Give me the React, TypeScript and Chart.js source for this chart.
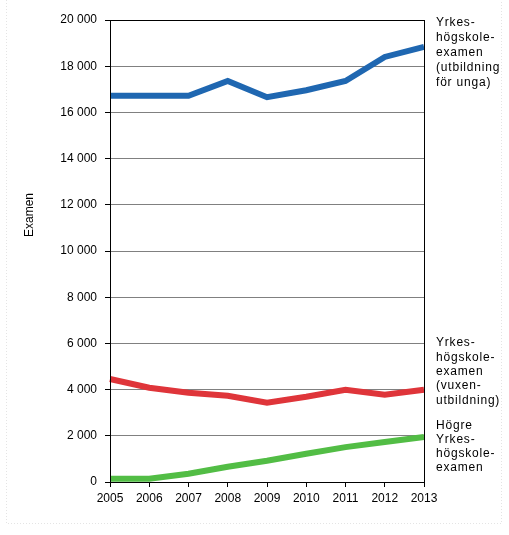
import React, { useEffect, useRef } from 'react';
import { Chart, registerables } from 'chart.js';

Chart.register(...registerables);

const years = ['2005', '2006', '2007', '2008', '2009', '2010', '2011', '2012', '2013'];

const ungaValues = [16720, 16720, 16720, 17360, 16660, 16960, 17360, 18400, 18840];
const vuxenValues = [4460, 4080, 3860, 3730, 3430, 3690, 3990, 3780, 3990];
const hogreValues = [140, 140, 360, 660, 920, 1220, 1510, 1730, 1950];

const ungaLabel = ['Yrkes-', 'högskole-', 'examen', '(utbildning', 'för unga)'];
const vuxenLabel = ['Yrkes-', 'högskole-', 'examen', '(vuxen-', 'utbildning)'];
const hogreLabel = ['Högre', 'Yrkes-', 'högskole-', 'examen'];

const yTitle = 'Examen';
const FONT = '"Liberation Sans", Arial, sans-serif';

const formatThousands = (v: number) =>
  String(v).replace(/\B(?=(\d{3})+(?!\d))/g, ' ');

const decorPlugin = {
  id: 'decor',
  beforeDraw(chart: Chart) {
    const { ctx } = chart;
    ctx.save();
    ctx.strokeStyle = '#e4e4e4';
    ctx.lineWidth = 1;
    ctx.setLineDash([1, 2]);
    ctx.beginPath();
    ctx.moveTo(6.5, 0);
    ctx.lineTo(6.5, 523.5);
    ctx.lineTo(501.5, 523.5);
    ctx.lineTo(501.5, 0);
    ctx.stroke();
    ctx.restore();
  },
  afterDraw(chart: Chart) {
    const { ctx, chartArea } = chart;
    ctx.save();
    ctx.strokeStyle = '#000';
    ctx.lineWidth = 1;
    ctx.strokeRect(
      Math.round(chartArea.left) + 0.5,
      Math.round(chartArea.top) + 0.5,
      Math.round(chartArea.right - chartArea.left),
      Math.round(chartArea.bottom - chartArea.top)
    );

    ctx.fillStyle = '#000';
    ctx.font = `12px ${FONT}`;
    ctx.textBaseline = 'middle';
    ctx.textAlign = 'left';
    (ctx as any).letterSpacing = '0.8px';
    const x0 = chartArea.right + 12;
    const draw = (lines: string[], top: number, step: number) => {
      lines.forEach((l, i) => ctx.fillText(l, x0, top + i * step));
    };
    draw(ungaLabel, 23, 15);
    draw(vuxenLabel, 343, 14.3);
    draw(hogreLabel, 426, 14);
    (ctx as any).letterSpacing = '0px';

    ctx.translate(30, 215);
    ctx.rotate(-Math.PI / 2);
    ctx.textAlign = 'center';
    ctx.fillText(yTitle, 0, 0);
    ctx.restore();
  },
};

const App: React.FC = () => {
  const canvasRef = useRef<HTMLCanvasElement | null>(null);
  const chartRef = useRef<Chart | null>(null);

  useEffect(() => {
    if (!canvasRef.current) return;
    if (chartRef.current) chartRef.current.destroy();

    const lineStyle = { borderWidth: 6, pointRadius: 0, tension: 0, fill: false };

    chartRef.current = new Chart(canvasRef.current, {
      type: 'line',
      data: {
        labels: years,
        datasets: [
          { label: 'Yrkeshögskoleexamen (utbildning för unga)', data: ungaValues, borderColor: '#1f67b1', ...lineStyle },
          { label: 'Yrkeshögskoleexamen (vuxenutbildning)', data: vuxenValues, borderColor: '#df353a', ...lineStyle },
          { label: 'Högre yrkeshögskoleexamen', data: hogreValues, borderColor: '#52bd45', ...lineStyle },
        ],
      },
      options: {
        animation: false,
        responsive: true,
        maintainAspectRatio: false,
        layout: { padding: { top: 20, right: 85, bottom: 0, left: 0 } },
        plugins: {
          legend: { display: false },
          tooltip: { enabled: false },
        },
        scales: {
          x: {
            offset: false,
            afterFit: (s: any) => { s.height = 53; },
            grid: { drawOnChartArea: false, drawTicks: true, tickLength: 5, tickColor: '#000' },
            border: { color: '#000' },
            ticks: { color: '#000', font: { family: FONT, size: 12 }, padding: 4, maxRotation: 0, autoSkip: false },
          },
          y: {
            min: 0,
            max: 20000,
            afterFit: (s: any) => { s.width = 110; },
            grid: { color: '#808080', tickLength: 5, tickColor: '#000' },
            border: { color: '#000' },
            ticks: {
              stepSize: 2000,
              color: '#000',
              padding: 8,
              font: { family: FONT, size: 12 },
              callback: (v: any) => formatThousands(Number(v)),
            },
          },
        },
      },
      plugins: [decorPlugin],
    });

    return () => {
      if (chartRef.current) {
        chartRef.current.destroy();
        chartRef.current = null;
      }
    };
  }, []);

  return (
    <div style={{ position: 'absolute', left: 0, top: 0, width: 509, height: 535, background: '#fff' }}>
      <canvas ref={canvasRef} />
    </div>
  );
};

export default App;
